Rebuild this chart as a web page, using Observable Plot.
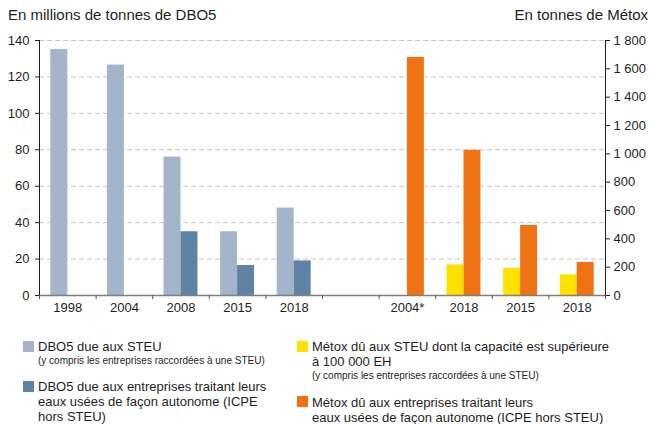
<!DOCTYPE html>
<html>
<head>
<meta charset="utf-8">
<script src="https://cdn.jsdelivr.net/npm/d3@7"></script>
<script src="https://cdn.jsdelivr.net/npm/@observablehq/plot@0.6"></script>
<style>
  html, body { margin: 0; padding: 0; background: #fff; }
  #wrap { position: relative; width: 651px; height: 424px; font-family: "Liberation Sans", Arial, Helvetica, sans-serif; color: #1e1e1e; overflow: hidden; }
  #chart { position: absolute; left: 0; top: 0; }
  .title { position: absolute; top: 6px; font-size: 15px; line-height: 17px; white-space: nowrap; }
  .item { position: absolute; font-size: 13px; line-height: 15px; white-space: nowrap; }
  .item .sw { position: absolute; left: -15px; width: 11px; height: 11px; }
  .item .small { font-size: 10px; line-height: 13px; }
</style>
</head>
<body>
<div id="wrap">
  <div class="title" style="left:8px">En millions de tonnes de DBO5</div>
  <div class="title" style="right:3px">En tonnes de Métox</div>
  <div id="chart"></div>
  <div id="legend"></div>
</div>
<script>
// ---- Data ----
const categories = ["1998", "2004", "2008", "2015", "2018", "", "2004*", "2018", "2015", "2018"];
const dboSteu   = [135, 126.5, 76, 35, 48, null, null, null, null, null];        // millions t DBO5
const dboIcpe   = [null, null, 35, 16.5, 19, null, null, null, null, null];      // millions t DBO5
const metoxSteu = [null, null, null, null, null, null, null, 216, 190, 146];     // t Métox
const metoxIcpe = [null, null, null, null, null, null, 1680, 1025, 494, 233];    // t Métox
const leftTicks  = [0, 20, 40, 60, 80, 100, 120, 140];
const rightTicks = [0, 200, 400, 600, 800, 1000, 1200, 1400, 1600, 1800];
const seriesNames = [
  "DBO5 due aux STEU",
  "DBO5 due aux entreprises traitant leurs eaux usées de façon autonome (ICPE hors STEU)",
  "Métox dû aux STEU dont la capacité est supérieure à 100 000 EH",
  "Métox dû aux entreprises traitant leurs eaux usées de façon autonome (ICPE hors STEU)"
];
const colors = ["#a4b4ca", "#5f83a4", "#ffe100", "#ef7314"];

// ---- Build table ----
const k = 140 / 1800; // right axis units -> left axis units
const rows = [];
const series = [
  {vals: dboSteu, slot: 0, scale: 1, s: 0},
  {vals: dboIcpe, slot: 1, scale: 1, s: 1},
  {vals: metoxSteu, slot: 0, scale: k, s: 2},
  {vals: metoxIcpe, slot: 1, scale: k, s: 3}
];
for (const ser of series) {
  ser.vals.forEach((v, i) => {
    if (v != null) rows.push({i, slot: ser.slot, value: v * ser.scale, s: ser.s});
  });
}
const pad = 0.2, bw = 0.3; // fraction of category band

const fmt = d3.formatLocale({decimal: ",", thousands: "\u00a0", grouping: [3], currency: ["", "€"]}).format(",d");

const plot = Plot.plot({
  width: 651,
  height: 320,
  marginLeft: 39,
  marginRight: 46,
  marginTop: 40,
  marginBottom: 25,
  x: {domain: [0, categories.length], axis: null},
  y: {domain: [0, 140], axis: null},
  color: {domain: [0, 1, 2, 3], range: colors},
  style: {fontFamily: "'Liberation Sans', Arial, Helvetica, sans-serif", fontSize: "13px", color: "#1e1e1e", background: "transparent"},
  marks: [
    Plot.gridY(leftTicks.filter(d => d > 0), {stroke: "#c4c4c4", strokeOpacity: 1, strokeDasharray: "5,3", strokeWidth: 1}),
    Plot.rect(rows, {
      x1: d => d.i + pad + d.slot * bw,
      x2: d => d.i + pad + (d.slot + 1) * bw,
      y1: 0,
      y2: "value",
      fill: "s"
    }),
    Plot.ruleY([0], {stroke: "#7f7f7f", strokeWidth: 1.5}),
    Plot.ruleX([0], {stroke: "#1e1e1e"}),
    Plot.ruleX([categories.length], {stroke: "#1e1e1e"}),
    Plot.axisY(leftTicks, {anchor: "left", tickSize: 4, tickPadding: 6, label: null}),
    Plot.axisY(rightTicks.map(v => v * k), {anchor: "right", tickSize: 4, tickPadding: 4, label: null, tickFormat: d => fmt(Math.round(d / k))}),
    Plot.axisX(d3.range(categories.length + 1), {anchor: "bottom", tickSize: 4, stroke: "#555", tickFormat: () => "", label: null}),
    Plot.axisX(d3.range(categories.length).map(i => i + 0.5), {anchor: "bottom", tickSize: 0, tickPadding: 7, label: null, tickFormat: d => categories[Math.floor(d)]})
  ]
});
document.getElementById("chart").appendChild(plot);

// ---- Legend ----
const legendItems = [
  {s: 0, left: 38, top: 339, main: ["DBO5 due aux STEU"], small: "(y compris les entreprises raccordées à une STEU)"},
  {s: 1, left: 38, top: 379, main: ["DBO5 due aux entreprises traitant leurs", "eaux usées de façon autonome (ICPE", "hors STEU)"]},
  {s: 2, left: 312, top: 339, main: ["Métox dû aux STEU dont la capacité est supérieure", "à 100 000 EH"], small: "(y compris les entreprises raccordées à une STEU)"},
  {s: 3, left: 312, top: 394.5, main: ["Métox dû aux entreprises traitant leurs", "eaux usées de façon autonome (ICPE hors STEU)"]}
];
const legend = document.getElementById("legend");
for (const it of legendItems) {
  const div = document.createElement("div");
  div.className = "item";
  div.style.left = it.left + "px";
  div.style.top = it.top + "px";
  const sw = document.createElement("div");
  sw.className = "sw";
  sw.style.background = colors[it.s];
  sw.style.top = "1.5px";
  div.appendChild(sw);
  it.main.forEach(t => { const l = document.createElement("div"); l.textContent = t; div.appendChild(l); });
  if (it.small) { const l = document.createElement("div"); l.className = "small"; l.textContent = it.small; div.appendChild(l); }
  legend.appendChild(div);
}
</script>
</body>
</html>
